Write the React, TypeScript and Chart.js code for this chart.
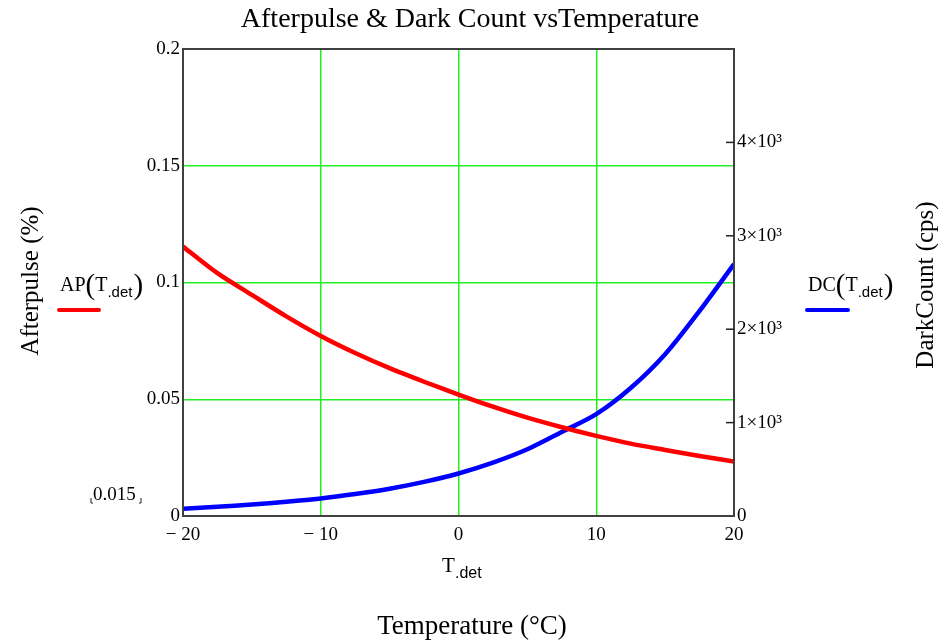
import React, { useEffect, useRef } from "react";
import { Chart, registerables } from "chart.js";

Chart.register(...registerables);

const temps = [-20, -17.5, -15, -12.5, -10, -7.5, -5, -2.5, 0, 2.5, 5, 7.5, 10, 12.5, 15, 17.5, 20];
const afterpulse = [0.1154, 0.104, 0.0947, 0.0855, 0.0771, 0.0698, 0.0633, 0.0575, 0.052, 0.0468, 0.0421, 0.038, 0.0343, 0.031, 0.0283, 0.0257, 0.0233];
const darkCount = [78, 98, 124, 152, 187, 235, 292, 365, 455, 571, 714, 900, 1090, 1370, 1732, 2196, 2697];
const rightTicks = [1000, 2000, 3000, 4000];

const SERIF = '"Liberation Serif", "Times New Roman", serif';
const SANS = '"Liberation Sans", Arial, sans-serif';

function drawMath(ctx: CanvasRenderingContext2D, x: number, y: number, name: string) {
  ctx.save();
  ctx.textBaseline = "alphabetic";
  ctx.textAlign = "left";
  ctx.fillStyle = "#000";
  let cx = x;
  ctx.font = `20px ${SERIF}`;
  ctx.fillText(name, cx, y);
  cx += ctx.measureText(name).width;
  ctx.font = `29px ${SERIF}`;
  ctx.fillText("(", cx, y + 3);
  cx += ctx.measureText("(").width;
  ctx.font = `20px ${SERIF}`;
  ctx.fillText("T", cx, y);
  cx += ctx.measureText("T").width;
  ctx.font = `15px ${SANS}`;
  ctx.fillText(".det", cx, y + 6);
  cx += ctx.measureText(".det").width + 1;
  ctx.font = `29px ${SERIF}`;
  ctx.fillText(")", cx, y + 3);
  ctx.restore();
}

const textPlugin = {
  id: "mathcadText",
  afterDraw(chart: any) {
    const ctx: CanvasRenderingContext2D = chart.ctx;
    const a = chart.chartArea;
    const y2 = chart.scales.y2;
    ctx.save();
    ctx.strokeStyle = "#404040";
    ctx.lineWidth = 2;
    ctx.strokeRect(a.left, a.top, a.right - a.left, a.bottom - a.top);
    ctx.strokeStyle = "#222";
    ctx.lineWidth = 1.5;
    rightTicks.forEach((v) => {
      const py = y2.getPixelForValue(v);
      ctx.beginPath();
      ctx.moveTo(a.right - 8, py);
      ctx.lineTo(a.right, py);
      ctx.stroke();
    });
    ctx.fillStyle = "#000";
    ctx.textAlign = "center";
    ctx.textBaseline = "middle";
    ctx.font = `28px ${SERIF}`;
    ctx.fillText("Afterpulse & Dark Count vsTemperature", 470, 20);
    ctx.font = `27px ${SERIF}`;
    ctx.fillText("Temperature (°C)", 472, 627);
    ctx.textAlign = "left";
    ctx.font = `21px ${SERIF}`;
    ctx.fillText("T", 442, 566);
    ctx.font = `16px ${SANS}`;
    ctx.fillText(".det", 455, 574);
    ctx.textAlign = "center";
    ctx.font = `25px ${SERIF}`;
    ctx.save();
    ctx.translate(31, 281);
    ctx.rotate(-Math.PI / 2);
    ctx.fillText("Afterpulse (%)", 0, 0);
    ctx.restore();
    ctx.save();
    ctx.translate(926, 285);
    ctx.rotate(-Math.PI / 2);
    ctx.fillText("DarkCount (cps)", 0, 0);
    ctx.restore();
    drawMath(ctx, 60, 291, "AP");
    drawMath(ctx, 808, 291, "DC");
    ctx.lineCap = "round";
    ctx.lineWidth = 4;
    ctx.strokeStyle = "#ff0000";
    ctx.beginPath();
    ctx.moveTo(59, 310);
    ctx.lineTo(99, 310);
    ctx.stroke();
    ctx.strokeStyle = "#0000ff";
    ctx.beginPath();
    ctx.moveTo(807, 310);
    ctx.lineTo(848, 310);
    ctx.stroke();
    ctx.lineCap = "butt";
    ctx.fillStyle = "#000";
    ctx.textAlign = "left";
    ctx.font = `19px ${SERIF}`;
    ctx.fillText("0.015", 93, 495);
    ctx.strokeStyle = "#222";
    ctx.lineWidth = 1;
    ctx.beginPath();
    ctx.moveTo(91, 498);
    ctx.lineTo(91, 503);
    ctx.lineTo(93, 503);
    ctx.moveTo(141, 498);
    ctx.lineTo(141, 503);
    ctx.lineTo(139, 503);
    ctx.stroke();
    ctx.restore();
  },
};

export default function App() {
  const ref = useRef<HTMLCanvasElement>(null);
  useEffect(() => {
    if (!ref.current) return;
    const green = "#22ee22";
    const chart = new Chart(ref.current, {
      type: "line",
      data: {
        datasets: [
          {
            label: "AP",
            data: temps.map((t, i) => ({ x: t, y: afterpulse[i] })),
            borderColor: "#ff0000",
            borderWidth: 4.5,
            pointRadius: 0,
            tension: 0.3,
            yAxisID: "y",
          },
          {
            label: "DC",
            data: temps.map((t, i) => ({ x: t, y: darkCount[i] })),
            borderColor: "#0000ff",
            borderWidth: 4.5,
            pointRadius: 0,
            tension: 0.3,
            yAxisID: "y2",
          },
        ],
      },
      options: {
        animation: false,
        responsive: false,
        maintainAspectRatio: false,
        layout: { padding: { top: 49, left: 0, right: 0, bottom: 0 } },
        plugins: { legend: { display: false }, tooltip: { enabled: false }, title: { display: false } },
        scales: {
          x: {
            type: "linear",
            min: -20,
            max: 20,
            afterFit: (s: any) => {
              s.height = 126;
            },
            ticks: {
              stepSize: 10,
              color: "#000",
              font: { family: SERIF, size: 19 },
              padding: 8,
              maxRotation: 0,
              callback: (v: any) => (v < 0 ? "− " + Math.abs(v) : String(v)),
            },
            grid: {
              color: (c: any) => (c.tick && (c.tick.value === -20 || c.tick.value === 20) ? "rgba(0,0,0,0)" : green),
              lineWidth: 1.5,
              drawTicks: false,
            },
            border: { display: true, color: "#404040", width: 2 },
          },
          y: {
            type: "linear",
            position: "left",
            min: 0,
            max: 0.2,
            afterFit: (s: any) => {
              s.width = 183;
            },
            ticks: {
              stepSize: 0.05,
              color: "#000",
              font: { family: SERIF, size: 19 },
              padding: 3,
              callback: (v: any) => String(parseFloat(Number(v).toFixed(3))),
            },
            grid: {
              color: (c: any) => (c.tick && (c.tick.value === 0 || Math.abs(c.tick.value - 0.2) < 1e-9) ? "rgba(0,0,0,0)" : green),
              lineWidth: 1.5,
              drawTicks: false,
            },
            border: { display: true, color: "#404040", width: 2 },
          },
          y2: {
            type: "linear",
            position: "right",
            min: 0,
            max: 5000,
            afterFit: (s: any) => {
              s.width = 211;
            },
            ticks: {
              stepSize: 1000,
              color: "#000",
              font: { family: SERIF, size: 19 },
              padding: 3,
              callback: (v: any) => (v === 0 ? "0" : v >= 5000 ? "" : `${v / 1000}×10³`),
            },
            grid: { display: false, drawTicks: false },
            border: { display: true, color: "#222", width: 2 },
          },
        },
      },
      plugins: [textPlugin],
    });
    return () => chart.destroy();
  }, []);
  return (
    <div style={{ position: "absolute", left: 0, top: 0, width: 945, height: 642, background: "#fff" }}>
      <canvas ref={ref} width={945} height={642} style={{ width: 945, height: 642, display: "block" }} />
    </div>
  );
}
